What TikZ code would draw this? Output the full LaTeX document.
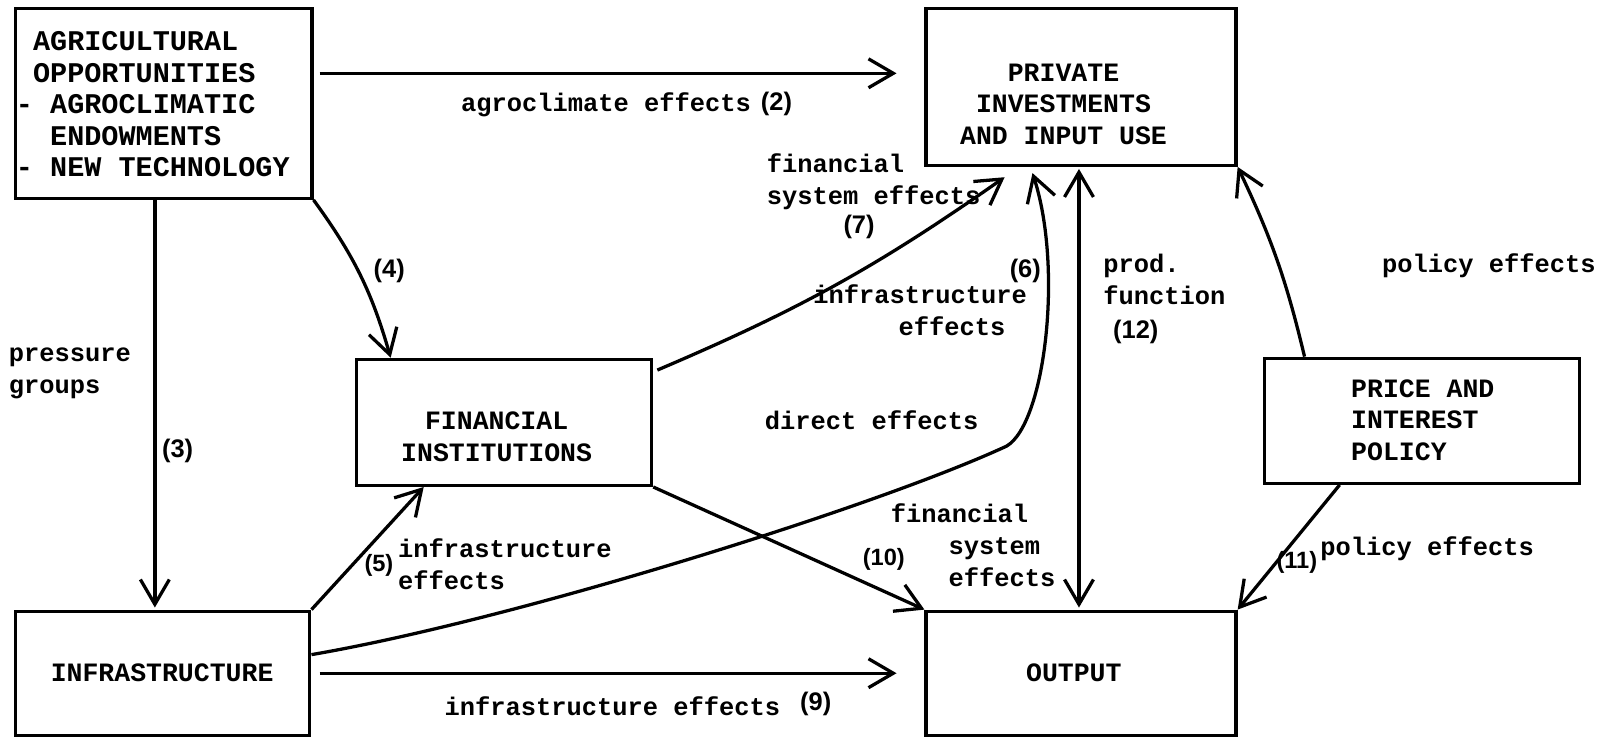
\documentclass[tikz,border=0pt]{standalone}
\usepackage{fontspec}
\newfontfamily\tw{Liberation Mono}
\newfontfamily\hw{Liberation Sans}
\usetikzlibrary{arrows.meta,calc}
\tikzset{
  box/.style={draw, line width=0.9pt, inner sep=0pt},
  arr/.style={line width=0.9pt, -{Straight Barb[length=2.4mm,width=2.8mm]}},
  arrtwo/.style={line width=0.9pt, {Straight Barb[length=2.4mm,width=2.8mm]}-{Straight Barb[length=2.4mm,width=2.8mm]}},
  lbl/.style={font=\tw\bfseries\fontsize{7}{8.8}\selectfont, inner sep=0pt, align=left},
  num/.style={font=\hw\bfseries\fontsize{7}{8.8}\selectfont, inner sep=0pt},
  numsm/.style={font=\hw\bfseries\fontsize{6.5}{8}\selectfont, inner sep=0pt},
  btxt/.style={font=\tw\bfseries\fontsize{7.3}{8.7}\selectfont, inner sep=0pt, align=center},
}
\begin{document}
\begin{tikzpicture}[x=0.01cm,y=-0.01cm]
\useasboundingbox (0,0) rectangle (1568,714);
% boxes
\node[box, minimum width=2.87cm, minimum height=1.84cm] (agri) at (158.5,100) {};
\node[box, minimum width=3.00cm, minimum height=1.52cm] (priv) at (1047,84) {};
\node[box, minimum width=2.86cm, minimum height=1.22cm] (fin) at (488,409) {};
\node[box, minimum width=2.85cm, minimum height=1.20cm] (infra) at (157.5,652) {};
\node[box, minimum width=3.00cm, minimum height=1.20cm] (out) at (1047,652) {};
\node[box, minimum width=3.05cm, minimum height=1.21cm] (price) at (1377.5,407.5) {};
% box texts
\node[btxt, align=left, font=\tw\bfseries\fontsize{7.85}{8.7}\selectfont] (agritxt) at (148,101)
  {\hspace*{0.6em}AGRICULTURAL\\\hspace*{0.6em}OPPORTUNITIES\\- AGROCLIMATIC\\\hspace*{1.2em}ENDOWMENTS\\- NEW TECHNOLOGY};
\node[btxt] (privtxt) at (1030,101) {PRIVATE\\INVESTMENTS\\AND INPUT USE};
\node[btxt] (fintxt) at (481,423) {FINANCIAL\\INSTITUTIONS};
\node[btxt] (infratxt) at (157,652) {INFRASTRUCTURE};
\node[btxt] (outtxt) at (1040,652) {OUTPUT};
\node[btxt, align=left] (pricetxt) at (1378,407) {PRICE AND\\INTEREST\\POLICY};
% connectors
\draw[arr, shorten <=0.06cm, shorten >=0.27cm] ([yshift=0.29cm]agri.east) -- ([yshift=0.29cm]agri.east -| priv.west);
\draw[arr, shorten >=0.02cm] ([xshift=-0.085cm]agri.south) -- ([xshift=-0.085cm]agri.south |- infra.north);
\draw[arr] (agri.south east) to[bend left=10] ([xshift=0.35cm]fin.north west);
\draw[arr] ([shift={(0.04cm,-0.12cm)}]fin.north east) to[bend right=6] ([shift={(-0.74cm,-0.1cm)}]priv.south);
\draw[arr] (infra.north east) -- ([xshift=0.67cm]fin.south west);
\coordinate (c6) at (975,432);
\draw[arr] ([yshift=0.18cm]infra.east) .. controls (500,600) and (850,490) .. (c6)
  .. controls (1012,410) and (1030,260) .. ([shift={(-0.47cm,-0.06cm)}]priv.south);
\draw[arr] (fin.south east) -- (out.north west);
\draw[arr, shorten <=0.08cm, shorten >=0.27cm] (infra.east) -- (infra.east -| out.west);
\draw[arrtwo, shorten <=0.02cm, shorten >=0.02cm] ([xshift=-0.02cm]priv.south) -- ([xshift=-0.02cm]priv.south |- out.north);
\draw[arr] ([xshift=-1.14cm]price.north) to[bend right=6] (priv.south east);
\draw[arr] ([xshift=-0.8cm]price.south) -- (out.north east);
% labels
\node[lbl, anchor=west] (l2a) at (446,101) {agroclimate effects};
\node[num] (l2) at (752,101) {(2)};
\node[lbl, anchor=west] (lpg) at (8,362) {pressure\\groups};
\node[num] (l3) at (172,437) {(3)};
\node[num] (l4) at (377,262) {(4)};
\node[lbl, anchor=west] (l7a) at (742,176) {financial\\system effects};
\node[num] (l7) at (832,220) {(7)};
\node[numsm] (l5) at (367,548) {(5)};
\node[lbl, anchor=west] (l5a) at (385,546) {infrastructure\\effects};
\node[lbl, anchor=west] (l6a) at (787,300) {infrastructure\\\hspace*{3.36em}effects};
\node[num] (l6) at (993,262) {(6)};
\node[lbl, anchor=west] (ldir) at (740,407) {direct effects};
\node[lbl, anchor=west] (l10a) at (862,528) {financial\\\hspace*{2.28em}system\\\hspace*{2.28em}effects};
\node[numsm] (l10) at (856,542) {(10)};
\node[lbl, anchor=west] (l9a) at (430,684) {infrastructure effects};
\node[num] (l9) at (790,682) {(9)};
\node[lbl, anchor=west] (l12a) at (1068,271) {prod.\\function};
\node[num] (l12) at (1100,321) {(12)};
\node[lbl, anchor=west] (lpol) at (1338,257) {policy effects};
\node[numsm] (l11) at (1256,545) {(11)};
\node[lbl, anchor=west] (l11a) at (1278,531) {policy effects};
\end{tikzpicture}
\end{document}
